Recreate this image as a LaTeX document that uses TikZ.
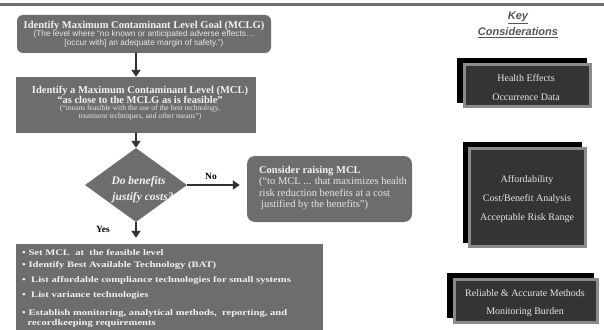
\documentclass[tikz,border=0pt]{standalone}
\usepackage{fontspec}
\usepackage{graphicx}
\setmainfont{Liberation Serif}
\setsansfont{Liberation Sans}
\usetikzlibrary{arrows.meta,shapes.geometric}
\definecolor{boxg}{HTML}{6D6D6D}
\definecolor{arr}{HTML}{333333}
\definecolor{txt}{HTML}{F2F2F2}
\definecolor{subtxt}{HTML}{E6E6E6}
\definecolor{keyfill}{HTML}{343434}
\definecolor{keyedge}{HTML}{8A8A8A}
\definecolor{keyhead}{HTML}{555555}
\definecolor{barg}{HTML}{6E6E6E}
\newcommand{\squish}[1]{\scalebox{1}[0.8]{#1}}
\begin{document}
\begin{tikzpicture}[x=1pt,y=-1pt,
  gbox/.style={fill=boxg,draw=none,inner sep=0pt},
  ttl/.style={text=txt,inner sep=0pt,font=\bfseries\fontsize{10.5}{12}\selectfont},
  subsans/.style={text=subtxt,inner sep=0pt,font=\sffamily\fontsize{8.3}{9}\selectfont},
  subserif/.style={text=subtxt,inner sep=0pt,font=\fontsize{7.6}{9}\selectfont},
  dtxt/.style={text=txt,inner sep=0pt,font=\bfseries\itshape\fontsize{11.5}{13}\selectfont},
  lbl/.style={text=black,inner sep=0pt,font=\bfseries\fontsize{9.5}{11}\selectfont},
  arrowst/.style={draw=arr,line width=2.8pt,-{Triangle[length=7pt,width=9pt]}},
  btxt/.style={text=txt,inner sep=0pt,anchor=west,font=\bfseries\fontsize{10.6}{12}\selectfont},
  keyh/.style={text=keyhead,inner sep=0pt,font=\sffamily\bfseries\itshape\fontsize{11}{13}\selectfont},
  shadowbox/.style={fill=black,draw=none,inner sep=0pt},
  keybox/.style={fill=keyfill,draw=keyedge,line width=3pt,inner sep=0pt},
  ktxt/.style={text=subtxt,inner sep=0pt,font=\fontsize{10}{12}\selectfont}
]
\useasboundingbox (0,0) rectangle (604,329);
\fill[barg] (0,2.7) rectangle (604,6);

% MCLG box
\node[gbox,rounded corners=6pt,minimum width=254pt,minimum height=38pt] (mclg) at (144,34) {};
\node[ttl] (mclgT) at (144,26) {Identify Maximum Contaminant Level Goal (MCLG)};
\node[subsans] (mclgA) at (144,34.5) {(The level where “no known or anticipated adverse effects…};
\node[subsans] (mclgB) at (144,43.3) {[occur with] an adequate margin of safety.”)};

% MCL box
\node[gbox,minimum width=240pt,minimum height=56pt] (mcl) at (136,105) {};
\node[ttl] (mclT) at (140,90.7) {Identify a Maximum Contaminant Level (MCL)};
\node[ttl] (mclQ) at (140,100) {“as close to the MCLG as is feasible”};
\node[subserif] (mclA) at (140,108.5) {(“means feasible with the use of the best technology,};
\node[subserif] (mclB) at (140,117) {treatment techniques, and other means”)};

% decision
\node[diamond,fill=boxg,draw=none,inner sep=0pt,minimum width=102pt,minimum height=74pt] (dec) at (136,185) {};
\node[dtxt] (decA) at (138.5,182) {Do benefits};
\node[dtxt] (decB) at (143,198) {justify costs?};

% consider box
\node[gbox,rounded corners=8pt,minimum width=165pt,minimum height=66pt] (cons) at (329.5,189) {};
\node[text=subtxt,inner sep=0pt,align=left,font=\fontsize{10.5}{11.4}\selectfont] (consT) at (333,188)
  {\textbf{\color{txt}Consider raising MCL}\\(“to MCL ... that maximizes health\\risk reduction benefits at a cost\\\hspace{2pt}justified by the benefits”)};

% bottom box
\node[gbox,minimum width=307pt,minimum height=86pt] (bl) at (169.5,287) {};
\node[btxt] (b1) at (22,252.3) {\squish{• Set MCL\ \ at\ \ the feasible level}};
\node[btxt] (b2) at (22,265.7) {\squish{• Identify Best Available Technology (BAT)}};
\node[btxt] (b3) at (22,280) {\squish{•\ \ List affordable compliance technologies for small systems}};
\node[btxt] (b4) at (22,295) {\squish{•\ \ List variance technologies}};
\node[btxt] (b5) at (22,313) {\squish{• Establish monitoring, analytical methods,\ \ reporting, and}};
\node[btxt] (b6) at (27.5,323) {\squish{recordkeeping requirements}};

% connectors
\draw[arrowst] (mclg.south -| mcl.north) -- (mcl.north);
\draw[arrowst] (mcl.south) -- (dec.north);
\draw[arrowst,shorten >=6pt] (dec.south) -- (bl.north -| dec.south);
\draw[arrowst,shorten >=7pt] (dec.east) -- (cons.west |- dec.east);
\node[lbl] (yes) at (103,229) {Yes};
\node[lbl] (no) at (211,176) {No};

% key considerations
\node[keyh] (kh1) at (518,18) {\underline{Key}};
\node[keyh] (kh2) at (518,33) {\underline{Considerations}};

\node[shadowbox,minimum width=130pt,minimum height=45pt] (as) at (522,80.5) {};
\node[keybox,minimum width=126pt,minimum height=42pt] (ka) at (527.5,85.5) {};
\node[ktxt] (ka1) at (526,78) {Health Effects};
\node[ktxt] (ka2) at (526,97) {Occurrence Data};

\node[shadowbox,minimum width=119pt,minimum height=101pt] (bs) at (522.5,192.5) {};
\node[keybox,minimum width=116pt,minimum height=98pt] (kb) at (527.5,197.5) {};
\node[ktxt] (kb1) at (527,180) {Affordability};
\node[ktxt] (kb2) at (527,199) {Cost/Benefit Analysis};
\node[ktxt] (kb3) at (527,218) {Acceptable Risk Range};

\node[shadowbox,minimum width=147pt,minimum height=45pt] (cs) at (520.5,295.5) {};
\node[keybox,minimum width=143pt,minimum height=43pt] (kc) at (526,301) {};
\node[ktxt] (kc1) at (525,293) {Reliable \& Accurate Methods};
\node[ktxt] (kc2) at (525,312) {Monitoring Burden};
\end{tikzpicture}
\end{document}
